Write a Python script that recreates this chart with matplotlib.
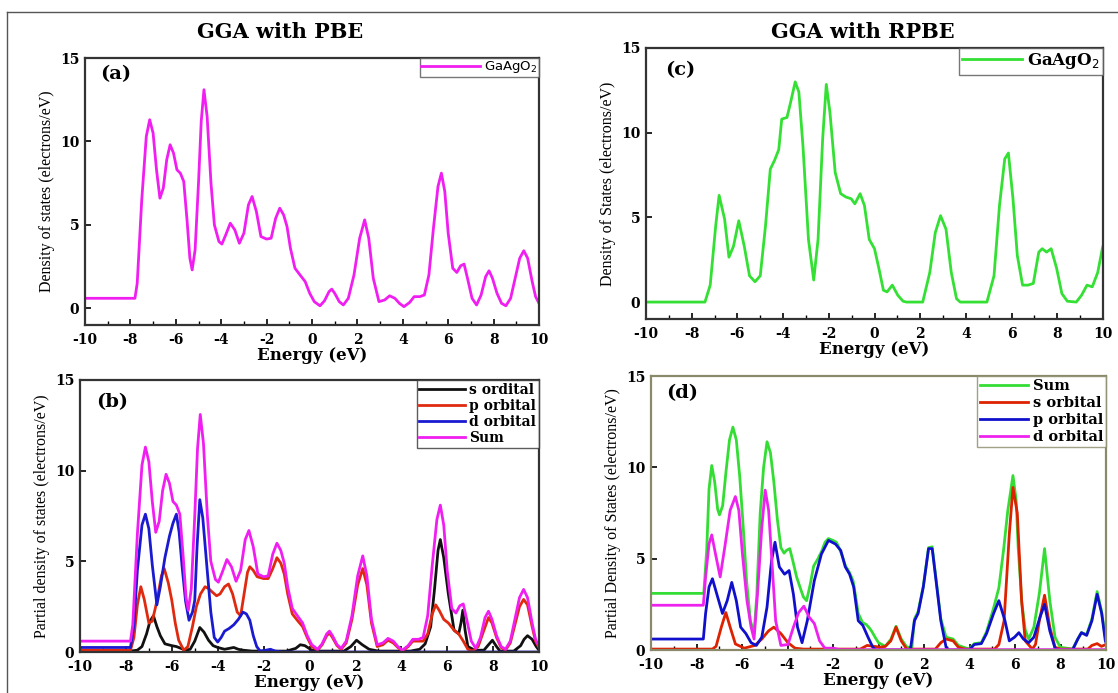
import matplotlib
matplotlib.use("Agg")
import matplotlib.pyplot as plt
from matplotlib.lines import Line2D
from matplotlib.ticker import MultipleLocator

# ---- data: (energy eV, DOS) ----
pbe_total = [(-10, 0.6), (-7.8, 0.6), (-7.7, 1.5), (-7.5, 6.5), (-7.3, 10.3), (-7.15, 11.3),
             (-7.0, 10.5), (-6.85, 8.3), (-6.7, 6.6), (-6.55, 7.2), (-6.4, 8.9), (-6.25, 9.8),
             (-6.1, 9.3), (-5.95, 8.3), (-5.8, 8.1), (-5.65, 7.6), (-5.5, 5.2), (-5.38, 3.0),
             (-5.28, 2.3), (-5.15, 3.5), (-5.0, 7.5), (-4.88, 11.2), (-4.76, 13.1), (-4.62, 11.5),
             (-4.45, 7.5), (-4.3, 5.0), (-4.1, 4.0), (-3.97, 3.85), (-3.8, 4.4), (-3.6, 5.1),
             (-3.4, 4.7), (-3.2, 3.9), (-3.0, 4.5), (-2.8, 6.2), (-2.64, 6.7), (-2.45, 5.8),
             (-2.25, 4.3), (-2.0, 4.15), (-1.8, 4.2), (-1.6, 5.4), (-1.42, 6.0), (-1.25, 5.6),
             (-1.1, 4.9), (-0.95, 3.6), (-0.75, 2.4), (-0.5, 1.95), (-0.3, 1.6), (-0.1, 0.9),
             (0.1, 0.4), (0.35, 0.15), (0.55, 0.45), (0.75, 1.0), (0.87, 1.15), (1.0, 0.9),
             (1.2, 0.4), (1.38, 0.2), (1.6, 0.6), (1.85, 2.0), (2.1, 4.2), (2.32, 5.3), (2.5, 4.2),
             (2.7, 1.8), (2.95, 0.4), (3.2, 0.5), (3.42, 0.75), (3.65, 0.6), (3.85, 0.3),
             (4.05, 0.1), (4.3, 0.35), (4.5, 0.7), (4.75, 0.7), (4.95, 0.8), (5.15, 2.0),
             (5.35, 4.8), (5.55, 7.3), (5.7, 8.1), (5.85, 7.0), (6.0, 4.5), (6.2, 2.4),
             (6.38, 2.15), (6.55, 2.55), (6.7, 2.65), (6.85, 1.8), (7.05, 0.6), (7.25, 0.2),
             (7.45, 0.8), (7.65, 1.9), (7.8, 2.25), (7.95, 1.8), (8.15, 0.9), (8.35, 0.3),
             (8.54, 0.15), (8.75, 0.6), (8.95, 1.8), (9.15, 3.0), (9.33, 3.45), (9.5, 3.0),
             (9.7, 1.6), (9.85, 0.7), (10.0, 0.3)]

pbe_s = [(-10, 0.05), (-7.8, 0.05), (-7.5, 0.1), (-7.3, 0.3), (-7.1, 1.0), (-6.95, 1.7),
         (-6.8, 2.0), (-6.65, 1.4), (-6.5, 0.9), (-6.3, 0.45), (-6.0, 0.35), (-5.8, 0.3),
         (-5.6, 0.2), (-5.4, 0.1), (-5.2, 0.15), (-5.0, 0.6), (-4.78, 1.35), (-4.6, 1.1),
         (-4.4, 0.65), (-4.2, 0.35), (-4.0, 0.25), (-3.7, 0.15), (-3.5, 0.2), (-3.3, 0.25),
         (-3.1, 0.15), (-2.9, 0.1), (-2.5, 0.05), (-1.0, 0.05), (-0.6, 0.2), (-0.4, 0.4),
         (-0.2, 0.35), (0.1, 0.1), (0.5, 0.05), (1.5, 0.05), (1.8, 0.3), (2.05, 0.65),
         (2.3, 0.4), (2.6, 0.15), (3.0, 0.05), (4.4, 0.05), (4.8, 0.15), (5.04, 0.45),
         (5.28, 1.4), (5.45, 3.5), (5.6, 5.6), (5.7, 6.2), (5.85, 5.2), (6.05, 3.2),
         (6.3, 1.2), (6.5, 1.0), (6.6, 1.6), (6.68, 2.3), (6.78, 1.2), (6.9, 0.3), (7.2, 0.1),
         (7.6, 0.1), (7.8, 0.4), (7.97, 0.65), (8.15, 0.3), (8.3, 0.05), (8.9, 0.05),
         (9.2, 0.35), (9.35, 0.7), (9.5, 0.9), (9.7, 0.7), (9.88, 0.3), (10.0, 0.1)]

pbe_p = [(-10, 0.1), (-7.8, 0.1), (-7.65, 0.8), (-7.5, 2.6), (-7.35, 3.6), (-7.2, 2.9),
         (-7.0, 1.6), (-6.85, 1.7), (-6.65, 2.8), (-6.45, 4.2), (-6.33, 4.6), (-6.15, 3.8),
         (-6.0, 2.85), (-5.85, 1.6), (-5.7, 0.65), (-5.48, 0.1), (-5.3, 0.3), (-5.1, 1.4),
         (-4.93, 2.5), (-4.75, 3.2), (-4.55, 3.6), (-4.4, 3.5), (-4.23, 3.3), (-4.05, 3.1),
         (-3.9, 3.2), (-3.7, 3.6), (-3.53, 3.75), (-3.35, 3.2), (-3.15, 2.2), (-3.0, 2.0),
         (-2.85, 3.2), (-2.7, 4.4), (-2.6, 4.7), (-2.45, 4.5), (-2.28, 4.15), (-2.0, 4.05),
         (-1.8, 4.05), (-1.6, 4.6), (-1.42, 5.2), (-1.25, 4.9), (-1.1, 4.3), (-0.95, 3.2),
         (-0.75, 2.1), (-0.5, 1.7), (-0.3, 1.4), (-0.1, 0.8), (0.1, 0.3), (0.35, 0.1),
         (0.55, 0.4), (0.75, 0.9), (0.87, 1.05), (1.0, 0.8), (1.2, 0.35), (1.38, 0.15),
         (1.6, 0.5), (1.85, 1.8), (2.1, 3.7), (2.32, 4.6), (2.5, 3.7), (2.7, 1.6), (2.95, 0.3),
         (3.2, 0.4), (3.42, 0.65), (3.65, 0.5), (3.85, 0.25), (4.05, 0.05), (4.3, 0.3),
         (4.5, 0.6), (4.75, 0.6), (4.95, 0.6), (5.15, 1.0), (5.35, 2.1), (5.5, 2.6),
         (5.65, 2.3), (5.85, 1.8), (6.05, 1.6), (6.3, 1.2), (6.5, 1.0), (6.7, 0.6), (6.9, 0.15),
         (7.1, 0.05), (7.35, 0.3), (7.6, 1.2), (7.8, 1.9), (7.95, 1.6), (8.15, 0.8),
         (8.35, 0.25), (8.54, 0.1), (8.75, 0.5), (8.95, 1.5), (9.15, 2.5), (9.33, 2.9),
         (9.5, 2.6), (9.7, 1.4), (9.85, 0.6), (10.0, 0.25)]

pbe_d = [(-10, 0.25), (-7.8, 0.25), (-7.65, 1.5), (-7.5, 4.5), (-7.3, 7.0), (-7.15, 7.6),
         (-7.0, 6.8), (-6.85, 4.8), (-6.65, 2.6), (-6.5, 3.6), (-6.3, 5.2), (-6.1, 6.4),
         (-5.95, 7.1), (-5.8, 7.6), (-5.68, 6.6), (-5.55, 4.7), (-5.4, 2.8), (-5.25, 1.75),
         (-5.1, 2.2), (-5.0, 2.85), (-4.9, 5.8), (-4.78, 8.4), (-4.65, 7.4), (-4.47, 4.7),
         (-4.3, 2.2), (-4.15, 0.8), (-4.0, 0.55), (-3.85, 0.8), (-3.7, 1.15), (-3.5, 1.3),
         (-3.3, 1.5), (-3.1, 1.8), (-2.9, 2.2), (-2.75, 2.1), (-2.6, 1.75), (-2.45, 0.9),
         (-2.3, 0.3), (-2.15, 0.05), (-1.9, 0.1), (-1.7, 0.15), (-1.5, 0.05), (-1.2, 0.0),
         (10.0, 0.0)]

rpbe_total = [(-10, 0), (-7.42, 0), (-7.19, 1.0), (-6.95, 4.5), (-6.8, 6.3), (-6.56, 4.9),
              (-6.37, 2.65), (-6.17, 3.3), (-5.94, 4.8), (-5.7, 3.3), (-5.47, 1.55), (-5.23, 1.2),
              (-5.0, 1.55), (-4.77, 4.5), (-4.56, 7.85), (-4.38, 8.35), (-4.19, 9.0),
              (-4.06, 10.8), (-3.83, 10.9), (-3.67, 11.8), (-3.47, 13.0), (-3.31, 12.4),
              (-3.13, 9.2), (-2.89, 3.7), (-2.66, 1.3), (-2.47, 3.7), (-2.27, 9.6),
              (-2.11, 12.85), (-1.95, 11.2), (-1.72, 7.65), (-1.48, 6.4), (-1.25, 6.2),
              (-1.02, 6.1), (-0.86, 5.8), (-0.63, 6.4), (-0.44, 5.7), (-0.23, 3.7), (0.0, 3.15),
              (0.19, 2.0), (0.39, 0.7), (0.55, 0.6), (0.78, 1.0), (1.02, 0.4), (1.25, 0.05),
              (1.4, 0), (2.11, 0), (2.42, 1.75), (2.66, 4.1), (2.89, 5.1), (3.13, 4.3),
              (3.36, 1.75), (3.59, 0.2), (3.75, 0), (4.92, 0), (5.23, 1.55), (5.47, 5.7),
              (5.7, 8.45), (5.86, 8.8), (6.06, 6.1), (6.25, 2.75), (6.48, 1.0), (6.72, 1.0),
              (6.95, 1.1), (7.19, 2.95), (7.34, 3.15), (7.53, 2.95), (7.73, 3.15), (7.97, 2.0),
              (8.2, 0.5), (8.44, 0.05), (8.83, 0), (9.06, 0.4), (9.3, 1.0), (9.53, 0.9),
              (9.77, 1.75), (9.97, 3.15), (10.0, 3.3)]

rpbe_sum = [(-10, 3.1), (-7.68, 3.1), (-7.55, 5.5), (-7.45, 8.8), (-7.33, 10.1), (-7.2, 9.2),
            (-7.07, 7.7), (-6.99, 7.4), (-6.85, 7.9), (-6.7, 9.8), (-6.55, 11.5), (-6.4, 12.2),
            (-6.25, 11.5), (-6.1, 9.5), (-5.95, 6.8), (-5.8, 3.8), (-5.63, 1.6), (-5.47, 0.9),
            (-5.35, 3.0), (-5.2, 7.5), (-5.05, 10.0), (-4.9, 11.4), (-4.75, 10.8), (-4.6, 9.2),
            (-4.45, 7.2), (-4.29, 5.6), (-4.15, 5.3), (-4.05, 5.45), (-3.9, 5.55), (-3.75, 4.8),
            (-3.6, 4.0), (-3.44, 3.4), (-3.3, 2.9), (-3.16, 2.7), (-3.0, 3.6), (-2.85, 4.6),
            (-2.66, 5.0), (-2.5, 5.4), (-2.35, 5.9), (-2.2, 6.1), (-2.0, 6.0), (-1.85, 5.9),
            (-1.7, 5.5), (-1.58, 5.1), (-1.45, 4.6), (-1.3, 4.3), (-1.12, 3.8), (-1.0, 2.9),
            (-0.89, 2.0), (-0.7, 1.5), (-0.54, 1.4), (-0.4, 1.2), (-0.31, 1.05), (-0.15, 0.7),
            (0.0, 0.4), (0.3, 0.2), (0.55, 0.6), (0.77, 1.3), (1.0, 0.6), (1.25, 0.15),
            (1.47, 0.15), (1.58, 1.7), (1.74, 2.1), (1.97, 3.5), (2.2, 5.6), (2.36, 5.65),
            (2.51, 4.1), (2.74, 1.7), (2.97, 0.7), (3.28, 0.6), (3.51, 0.25), (3.98, 0.05),
            (4.21, 0.35), (4.52, 0.4), (4.75, 1.0), (5.06, 2.3), (5.29, 3.4), (5.5, 5.5),
            (5.68, 7.6), (5.91, 9.55), (6.05, 8.2), (6.14, 5.6), (6.3, 2.6), (6.45, 1.1),
            (6.6, 0.6), (6.83, 1.25), (7.07, 3.1), (7.3, 5.55), (7.53, 2.7), (7.76, 0.7),
            (7.99, 0.15), (8.53, 0.05), (8.76, 0.6), (8.92, 0.95), (9.15, 0.85), (9.38, 1.7),
            (9.61, 3.2), (9.81, 2.1), (9.97, 0.7), (10.0, 0.6)]

rpbe_s = [(-10, 0.05), (-7.3, 0.05), (-7.14, 0.2), (-6.91, 1.25), (-6.71, 2.05), (-6.52, 1.25),
          (-6.29, 0.33), (-5.9, 0.1), (-5.44, 0.25), (-5.13, 0.6), (-4.83, 1.05), (-4.6, 1.25),
          (-4.29, 0.9), (-3.98, 0.4), (-3.67, 0.1), (-3.3, 0.05), (-0.8, 0.05), (-0.5, 0.25),
          (-0.2, 0.2), (0.1, 0.15), (0.3, 0.2), (0.54, 0.5), (0.77, 1.25), (1.0, 0.5),
          (1.24, 0.05), (2.5, 0.05), (2.74, 0.4), (2.97, 0.6), (3.28, 0.5), (3.51, 0.15),
          (3.8, 0.05), (5.1, 0.05), (5.29, 0.3), (5.52, 1.6), (5.75, 6.35), (5.91, 8.9),
          (6.1, 7.5), (6.29, 2.7), (6.45, 0.5), (6.76, 0.05), (6.9, 0.3), (7.07, 1.6),
          (7.3, 3.0), (7.53, 1.25), (7.76, 0.15), (8.0, 0.05), (9.2, 0.05), (9.38, 0.25),
          (9.61, 0.35), (9.8, 0.2), (10.0, 0.3)]

rpbe_p = [(-10, 0.6), (-7.7, 0.6), (-7.6, 2.0), (-7.45, 3.45), (-7.3, 3.9), (-7.07, 2.9),
          (-6.86, 2.0), (-6.65, 2.7), (-6.45, 3.7), (-6.25, 2.7), (-6.06, 1.25), (-5.83, 0.9),
          (-5.6, 0.4), (-5.37, 0.25), (-5.13, 0.7), (-4.9, 2.35), (-4.7, 4.9), (-4.55, 5.9),
          (-4.36, 4.55), (-4.13, 4.15), (-3.93, 4.35), (-3.74, 3.05), (-3.56, 1.25),
          (-3.36, 0.4), (-3.13, 1.6), (-2.82, 3.8), (-2.51, 5.25), (-2.2, 6.0), (-1.89, 5.8),
          (-1.66, 5.45), (-1.46, 4.55), (-1.27, 4.15), (-1.09, 3.45), (-0.89, 1.6),
          (-0.69, 1.35), (-0.46, 0.7), (-0.25, 0.15), (-0.1, 0.0), (1.4, 0.0), (1.58, 1.6),
          (1.74, 2.0), (1.97, 3.45), (2.2, 5.55), (2.36, 5.55), (2.51, 4.0), (2.74, 1.6),
          (2.97, 0.15), (3.1, 0.0), (3.98, 0.0), (4.21, 0.3), (4.52, 0.35), (4.75, 0.9),
          (5.06, 2.0), (5.29, 2.7), (5.56, 1.6), (5.75, 0.5), (5.98, 0.7), (6.17, 0.95),
          (6.37, 0.6), (6.6, 0.4), (6.83, 0.7), (7.1, 1.8), (7.3, 2.5), (7.53, 1.05),
          (7.76, 0.1), (7.9, 0.0), (8.53, 0.0), (8.76, 0.6), (8.92, 0.95), (9.15, 0.8),
          (9.38, 1.6), (9.61, 3.05), (9.81, 2.0), (9.97, 0.5), (10.0, 0.4)]

rpbe_d = [(-10, 2.45), (-7.7, 2.45), (-7.6, 4.0), (-7.45, 5.8), (-7.33, 6.3), (-7.14, 5.1),
          (-6.96, 4.0), (-6.76, 5.6), (-6.52, 7.65), (-6.29, 8.4), (-6.14, 7.65), (-5.98, 5.25),
          (-5.78, 2.7), (-5.6, 1.25), (-5.47, 0.6), (-5.32, 3.05), (-5.13, 6.7), (-4.98, 8.75),
          (-4.83, 7.65), (-4.67, 4.55), (-4.52, 1.6), (-4.29, 0.25), (-3.98, 0.3),
          (-3.74, 1.25), (-3.51, 2.05), (-3.28, 2.4), (-3.05, 1.8), (-2.82, 1.45),
          (-2.59, 0.5), (-2.36, 0.1), (-2.0, 0.1), (-1.7, 0.02), (10.0, 0.02)]

xticks = [-10, -8, -6, -4, -2, 0, 2, 4, 6, 8, 10]
yticks = [0, 5, 10, 15]

BOLD = {'family': 'DejaVu Serif', 'weight': 'bold'}
W, H = 1118, 693


def axes_at(fig, left, right, top, bottom):
    # pixel box -> figure fraction
    return fig.add_axes([left / W, 1 - bottom / H, (right - left) / W, (bottom - top) / H])


def plot_curve(ax, pts, color, label=None):
    xs = [p[0] for p in pts]
    ys = [p[1] for p in pts]
    ax.plot(xs, ys, color=color, lw=2.0, label=label, solid_joinstyle='round')


def style(ax, ylabel, ymin, panel, px, py, spine='#333333'):
    ax.set_xlim(-10, 10)
    ax.set_ylim(ymin, 15)
    ax.set_xticks(xticks)
    ax.xaxis.set_minor_locator(MultipleLocator(1))
    ax.set_yticks(yticks)
    ax.tick_params(direction='in', length=4, width=1.2, labelsize=10)
    ax.tick_params(axis='x', pad=6)
    ax.tick_params(axis='y', pad=4)
    ax.tick_params(which='minor', direction='in', length=3, width=1.0)
    ax.tick_params(top=False, right=False)
    ax.set_xticklabels([str(t) for t in xticks], fontdict=BOLD)
    ax.set_yticklabels([str(t) for t in yticks], fontdict=BOLD)
    for s in ax.spines.values():
        s.set_linewidth(1.6)
        s.set_color(spine)
    ax.set_xlabel('Energy (eV)', fontdict=BOLD, fontsize=12, labelpad=0)
    ax.set_ylabel(ylabel, family='Liberation Serif', fontsize=11.5, labelpad=4)
    ax.text(px, py, panel, transform=ax.transAxes, fontdict=BOLD, fontsize=14,
            va='center', ha='left')


fig = plt.figure(figsize=(W / 100, H / 100), dpi=100)

# outer frame
fig.add_artist(Line2D([7 / W, 1], [1 - 12 / H, 1 - 12 / H], color='#555555', lw=1.0))
fig.add_artist(Line2D([7 / W, 7 / W], [0, 1 - 12 / H], color='#555555', lw=1.0))

fig.text(280 / W, 1 - 32 / H, 'GGA with PBE', fontdict=BOLD, fontsize=15, ha='center', va='center')
fig.text(863 / W, 1 - 32 / H, 'GGA with RPBE', fontdict=BOLD, fontsize=15, ha='center', va='center')

# (a)
ax_a = axes_at(fig, 85, 539, 58, 325)
plot_curve(ax_a, pbe_total, '#f01ef0', 'GaAgO$_2$')
style(ax_a, 'Density of states (electrons/eV)', -1, '(a)', 0.033, 0.94)
ax_a.legend(loc='upper right', prop={'family': 'DejaVu Sans', 'size': 9.5}, frameon=True,
            fancybox=False, edgecolor='#555555', borderpad=0.1, handlelength=4.5,
            handletextpad=0.3, borderaxespad=0.0).get_frame().set_linewidth(1.0)

# (c)
ax_c = axes_at(fig, 646, 1103, 48, 319)
plot_curve(ax_c, rpbe_total, '#33e033', 'GaAgO$_2$')
style(ax_c, 'Density of States (electrons/eV)', -1, '(c)', 0.042, 0.92)
ax_c.legend(loc='upper right', prop={'family': 'DejaVu Serif', 'weight': 'bold', 'size': 12},
            frameon=True, fancybox=False, edgecolor='#555555', borderpad=0.2,
            handlelength=3.6, handletextpad=0.3, borderaxespad=0.0).get_frame().set_linewidth(1.0)

# (b)
ax_b = axes_at(fig, 80, 539, 380, 652)
plot_curve(ax_b, pbe_s, '#111111', 's ordital')
plot_curve(ax_b, pbe_p, '#e02a10', 'p orbital')
plot_curve(ax_b, pbe_d, '#1a1ad0', 'd orbital')
plot_curve(ax_b, pbe_total, '#f01ef0', 'Sum')
style(ax_b, 'Partial density of states (electrons/eV)', 0, '(b)', 0.035, 0.92)
ax_b.legend(loc='upper right', prop={'family': 'DejaVu Serif', 'weight': 'bold', 'size': 10},
            frameon=True, fancybox=False, edgecolor='#333333', borderpad=0.2,
            labelspacing=0.15, handlelength=3.3, handletextpad=0.3,
            borderaxespad=0.0).get_frame().set_linewidth(1.0)

# (d)
ax_d = axes_at(fig, 651, 1106, 376, 650)
plot_curve(ax_d, rpbe_sum, '#33dd33', 'Sum')
plot_curve(ax_d, rpbe_s, '#dd2200', 's orbital')
plot_curve(ax_d, rpbe_p, '#1010cc', 'p orbital')
plot_curve(ax_d, rpbe_d, '#ee22ee', 'd orbital')
style(ax_d, 'Partial Density of States (electrons/eV)', 0, '(d)', 0.034, 0.938, spine='#8a8a6a')
ax_d.legend(loc='upper right', prop={'family': 'DejaVu Serif', 'weight': 'bold', 'size': 10.5},
            frameon=True, fancybox=False, edgecolor='#8a8a6a', borderpad=0.2,
            labelspacing=0.2, handlelength=3.3, handletextpad=0.3,
            borderaxespad=0.0).get_frame().set_linewidth(1.0)

fig.savefig('out.png', dpi=100)
